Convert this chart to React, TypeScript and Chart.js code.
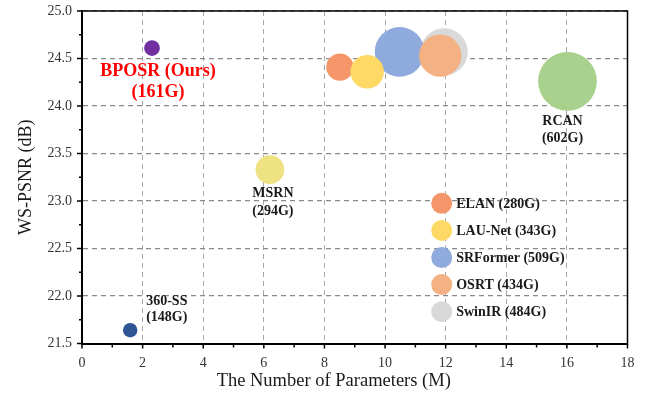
import { useEffect, useRef } from "react";
import { Chart, registerables } from "chart.js";
Chart.register(...registerables);

// ---- data ----
const models = ["SwinIR", "SRFormer", "ELAN", "LAU-Net", "OSRT", "RCAN", "MSRN", "BPOSR (Ours)", "360-SS"];
const paramsM = [11.95, 10.48, 8.51, 9.41, 11.82, 16.02, 6.2, 2.31, 1.59];
const wsPsnr = [24.57, 24.57, 24.41, 24.36, 24.53, 24.26, 23.33, 24.61, 21.64];
const gflops = [484, 509, 280, 343, 434, 602, 294, 161, 148];
const legendModels = ["ELAN", "LAU-Net", "SRFormer", "OSRT", "SwinIR"];
const xTicks = [0, 2, 4, 6, 8, 10, 12, 14, 16, 18];
const yTicks = [21.5, 22.0, 22.5, 23.0, 23.5, 24.0, 24.5, 25.0];

// ---- styles ----
const colors: Record<string, string> = {
  "SwinIR": "#D9D9D9",
  "SRFormer": "#8FAADC",
  "ELAN": "#F4956A",
  "LAU-Net": "#FFD966",
  "OSRT": "#F4B183",
  "RCAN": "#A9D18E",
  "MSRN": "#EEE282",
  "BPOSR (Ours)": "#7030A0",
  "360-SS": "#2F5597",
};
const PX_PER_GFLOP = 1 / 20.5;
const SERIF = "'Liberation Serif', 'Times New Roman', serif";

type Lbl = { model: string; lines: string[]; dx: number; dy: number; lh: number; size: number; color: string; align: CanvasTextAlign };
const pointLabels: Lbl[] = [
  { model: "BPOSR (Ours)", lines: ["BPOSR (Ours)", "(161G)"], dx: 6, dy: 23, lh: 21.5, size: 18, color: "#FF0000", align: "center" },
  { model: "RCAN", lines: ["RCAN", "(602G)"], dx: -5, dy: 40, lh: 17, size: 14, color: "#1a1a1a", align: "center" },
  { model: "MSRN", lines: ["MSRN", "(294G)"], dx: 3, dy: 24, lh: 18, size: 14, color: "#1a1a1a", align: "center" },
  { model: "360-SS", lines: ["360-SS", "(148G)"], dx: 16, dy: -29, lh: 16, size: 14, color: "#1a1a1a", align: "left" },
];

const decorPlugin = {
  id: "decor",
  afterDraw(chart: any) {
    const { ctx, chartArea: ca, scales } = chart;
    const xs = scales.x, ys = scales.y;
    ctx.save();
    // top & right frame
    ctx.strokeStyle = "#000";
    ctx.lineWidth = 1.5;
    ctx.beginPath();
    ctx.moveTo(ca.left, ca.top);
    ctx.lineTo(ca.right, ca.top);
    ctx.lineTo(ca.right, ca.bottom);
    ctx.stroke();
    // ticks
    ctx.lineWidth = 1.5;
    ctx.beginPath();
    for (let v = 0; v <= 18; v += 1) {
      const px = xs.getPixelForValue(v);
      const len = v % 2 === 0 ? 5 : 4;
      ctx.moveTo(px, ca.bottom);
      ctx.lineTo(px, ca.bottom + len);
    }
    for (let i = 0; i <= 14; i++) {
      const v = 21.5 + i * 0.25;
      const py = ys.getPixelForValue(v);
      const len = i % 2 === 0 ? 5 : 3;
      ctx.moveTo(ca.left, py);
      ctx.lineTo(ca.left - len, py);
    }
    ctx.stroke();
    // point labels
    const meta = chart.getDatasetMeta(0);
    ctx.textBaseline = "middle";
    pointLabels.forEach((l) => {
      const idx = models.indexOf(l.model);
      const el = meta.data[idx];
      ctx.fillStyle = l.color;
      ctx.font = `bold ${l.size}px ${SERIF}`;
      ctx.textAlign = l.align;
      l.lines.forEach((t, k) => ctx.fillText(t, el.x + l.dx, el.y + l.dy + k * l.lh));
    });
    // legend
    const lx = ca.left + 359.7, ly = ca.top + 192.3, step = 27.1;
    legendModels.forEach((m, k) => {
      const cy = ly + k * step;
      ctx.fillStyle = colors[m];
      ctx.beginPath();
      ctx.arc(lx, cy, 10.5, 0, Math.PI * 2);
      ctx.fill();
      ctx.fillStyle = "#1a1a1a";
      ctx.font = `bold 14px ${SERIF}`;
      ctx.textAlign = "left";
      ctx.fillText(`${m} (${gflops[models.indexOf(m)]}G)`, lx + 14.5, cy + 1);
    });
    // x title
    ctx.fillStyle = "#1a1a1a";
    ctx.font = `18.5px ${SERIF}`;
    ctx.textAlign = "center";
    ctx.fillText("The Number of Parameters (M)", (ca.left + ca.right) / 2 - 21, ca.bottom + 38);
    ctx.restore();
  },
};

export default function App() {
  const ref = useRef<HTMLCanvasElement>(null);
  useEffect(() => {
    document.body.style.margin = "0";
    const chart = new Chart(ref.current!, {
      type: "bubble",
      data: {
        datasets: [
          {
            data: models.map((m, i) => ({ x: paramsM[i], y: wsPsnr[i], r: gflops[i] * PX_PER_GFLOP })),
            backgroundColor: models.map((m) => colors[m]),
            borderWidth: 0,
            hoverRadius: 0,
          },
        ],
      },
      plugins: [decorPlugin],
      options: {
        animation: false,
        responsive: false,
        devicePixelRatio: 1,
        events: [],
        layout: { autoPadding: false, padding: { left: 0, top: 11, right: 17.5, bottom: 0 } },
        plugins: { legend: { display: false }, tooltip: { enabled: false } },
        scales: {
          x: {
            type: "linear",
            min: 0,
            max: 18,
            afterBuildTicks: (s: any) => { s.ticks = xTicks.map((v) => ({ value: v })); },
            afterFit: (s: any) => { s.height = 62.5; s.paddingLeft = 0; s.paddingRight = 0; },
            grid: { color: "#a8a8a8", lineWidth: 1, drawTicks: false },
            border: { display: true, color: "#000", width: 2, dash: [5, 4] },
            ticks: { padding: 11, color: "#333", font: { family: SERIF, size: 14 }, callback: (v: any) => String(v) },
          },
          y: {
            type: "linear",
            min: 21.5,
            max: 25.0,
            afterBuildTicks: (s: any) => { s.ticks = yTicks.map((v) => ({ value: v })); },
            afterFit: (s: any) => { s.width = 82; s.paddingTop = 0; s.paddingBottom = 0; },
            grid: { color: "#8a8a8a", lineWidth: 1.2, drawTicks: false },
            border: { display: true, color: "#000", width: 2, dash: [5, 4] },
            ticks: { padding: 10, color: "#333", font: { family: SERIF, size: 14 }, callback: (v: any) => Number(v).toFixed(1) },
            title: { display: true, text: "WS-PSNR (dB)", color: "#1a1a1a", font: { family: SERIF, size: 18 }, padding: { top: 15, bottom: 0 } },
          },
        },
      },
    });
    return () => chart.destroy();
  }, []);
  return <canvas ref={ref} width={645} height={406} style={{ display: "block" }} />;
}
